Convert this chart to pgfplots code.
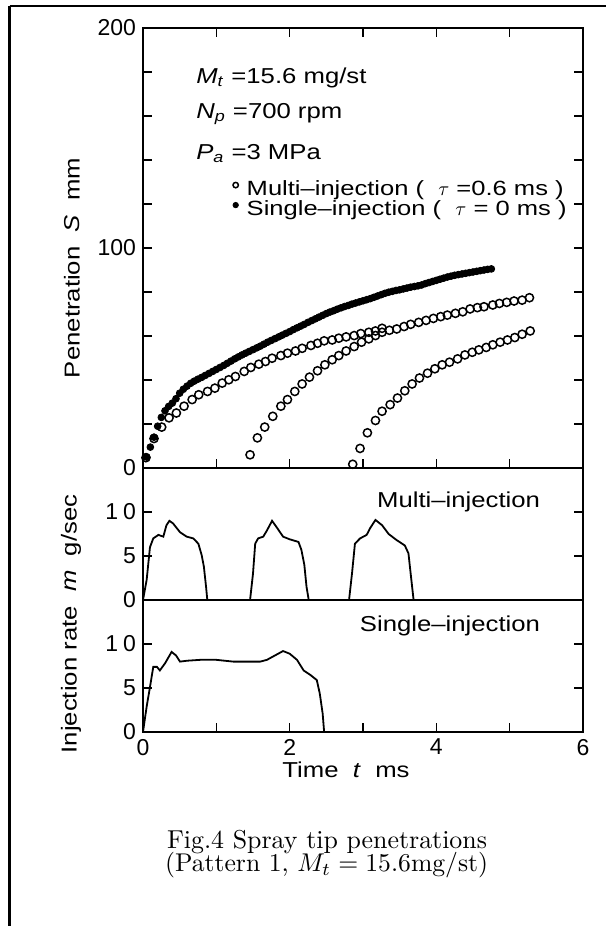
\documentclass[border=0pt]{standalone}
\usepackage{fontspec}
\usepackage{graphicx}
\usepackage{pgfplots}
\pgfplotsset{compat=1.18}
\newfontfamily\hv{Liberation Sans}
\newfontfamily\hvw[FakeStretch=1.19]{Liberation Sans}
\newfontfamily\hvl[FakeStretch=1.24]{Liberation Sans}
\newcommand\tickfont{\hv\fontsize{11.5}{13}\selectfont}
\newcommand\anfont{\hvw\fontsize{10.8}{12}\selectfont}
\newcommand\lgfont{\hvl\fontsize{10.3}{11}\selectfont}
\pgfplotsset{
  base/.style={scale only axis, width=220pt, xmin=0, xmax=6, anchor=south west,
    axis line style={line width=0.8pt}, tick style={line width=0.6pt, black},
    major tick length=4.5pt, minor tick length=4.5pt, tick align=inside,
    /pgf/number format/assume math mode=true,
    ticklabel style={font=\tickfont}},
}
\pgfplotstableread{
t S
0.05 5.0
0.10 9.5
0.15 14.0
0.20 19.0
0.25 23.0
0.30 26.0
0.35 28.0
0.40 29.5
0.45 31.5
0.50 34.0
0.55 35.8
0.60 37.2
0.65 38.5
0.70 39.5
0.75 40.4
0.80 41.2
0.85 42.1
0.90 43.0
0.95 43.9
1.00 44.8
1.05 45.7
1.10 46.6
1.15 47.6
1.20 48.6
1.25 49.6
1.30 50.5
1.35 51.4
1.40 52.2
1.45 53.0
1.50 53.8
1.55 54.6
1.60 55.4
1.65 56.3
1.70 57.2
1.75 58.0
1.80 58.8
1.85 59.6
1.90 60.4
1.95 61.2
2.00 62.0
2.05 62.9
2.10 63.7
2.15 64.5
2.20 65.3
2.25 66.2
2.30 67.0
2.35 67.8
2.40 68.6
2.45 69.4
2.50 70.2
2.55 70.9
2.60 71.5
2.65 72.2
2.70 72.8
2.75 73.4
2.80 73.9
2.85 74.5
2.90 75.0
2.95 75.5
3.00 76.0
3.05 76.5
3.10 77.0
3.15 77.6
3.20 78.2
3.25 78.8
3.30 79.4
3.35 79.9
3.40 80.3
3.45 80.7
3.50 81.0
3.55 81.4
3.60 81.8
3.65 82.2
3.70 82.5
3.75 82.8
3.80 83.2
3.85 83.8
3.90 84.3
3.95 84.8
4.00 85.3
4.05 85.8
4.10 86.3
4.15 86.8
4.20 87.2
4.25 87.6
4.30 87.9
4.35 88.2
4.40 88.5
4.45 88.8
4.50 89.1
4.55 89.4
4.60 89.7
4.65 90.0
4.70 90.3
4.75 90.5
}\single
\pgfplotstableread{
t S
0.04 4.7
0.15 13.4
0.255 18.6
0.355 22.8
0.455 25.0
0.56 28.1
0.67 31.1
0.76 33.3
0.88 34.8
0.98 36.3
1.08 38.6
1.17 40.1
1.26 41.6
1.38 43.9
1.47 45.7
1.58 47.2
1.67 48.4
1.76 49.9
1.88 51.1
1.97 52.2
2.08 53.2
2.17 54.4
2.29 55.7
2.38 56.7
2.47 57.8
2.58 58.2
2.67 59.0
2.77 59.6
2.88 60.2
2.97 61.1
3.08 61.7
3.17 62.3
3.26 63.5
}\multiA
\pgfplotstableread{
t S
1.46 6.0
1.56 13.7
1.66 18.6
1.77 23.5
1.88 28.1
1.97 31.1
2.07 34.8
2.17 38.2
2.27 41.3
2.38 44.2
2.48 46.9
2.58 49.2
2.67 51.1
2.77 53.2
2.88 55.2
2.98 57.2
3.08 58.7
3.17 60.2
3.26 61.7
3.36 62.6
3.46 63.2
3.56 64.3
3.65 65.3
3.76 66.2
3.86 67.1
3.96 68.0
4.06 68.8
4.15 69.5
4.26 70.3
4.36 71.0
4.46 72.3
4.56 72.9
4.65 73.3
4.77 74.1
4.86 74.8
4.96 75.3
5.06 75.9
5.17 76.3
5.27 77.4
}\multiB
\pgfplotstableread{
t S
2.86 1.7
2.96 8.9
3.06 16.0
3.17 21.6
3.26 25.8
3.37 28.8
3.47 31.8
3.57 35.1
3.67 38.2
3.77 40.9
3.88 43.1
3.98 45.1
4.08 46.9
4.18 48.1
4.29 49.6
4.39 51.4
4.49 52.6
4.58 53.7
4.68 54.8
4.77 56.0
4.87 57.2
4.97 58.2
5.07 59.3
5.17 60.8
5.28 62.3
}\multiC
\begin{document}
\begin{tikzpicture}
\useasboundingbox (0pt,0pt) rectangle (303pt,-463pt);
\draw[line width=1.3pt] (4.75pt,-3pt) -- (303pt,-3pt);
\draw[line width=1.3pt] (4.75pt,-3pt) -- (4.75pt,-463pt);
% top panel
\begin{axis}[base, at={(71.5pt,-234pt)}, height=220pt, ymin=0, ymax=200,
  ytick={0,100,200}, minor ytick={20,40,...,180},
  xtick={0,1,...,6}, xticklabels={}, clip=false,
  legend style={draw=none, fill=none, at={(axis cs:1.16,131)}, anchor=north west,
    font=\lgfont, inner sep=0pt, row sep=0pt,
    nodes={inner sep=0.2pt, text height=7.4pt, text depth=2.2pt}},
  legend cell align=left]
\addplot[only marks, mark=o, mark size=2.05pt, mark options={line width=0.75pt}, black,
  legend image code/.code={\path (0cm,0cm) (0.3cm,0cm); \draw[mark size=1.35pt, line width=0.5pt] plot coordinates {(0.12cm,0.09cm)};}]
  table {\multiA};
\addlegendentry{Multi–injection (\ \ $\tau$ =0.6 ms )}
\addplot[only marks, mark=*, mark size=1.7pt, black,
  legend image code/.code={\path (0cm,0cm) (0.3cm,0cm); \draw[mark size=1.35pt] plot coordinates {(0.12cm,0.09cm)};}]
  table {\single};
\addlegendentry{Single–injection (\ \ $\tau$ = 0 ms )}
\addplot[only marks, mark=o, mark size=2.05pt, mark options={line width=0.75pt, fill=white}, black, forget plot]
  table {\multiB};
\addplot[only marks, mark=o, mark size=2.05pt, mark options={line width=0.75pt, fill=white}, black, forget plot]
  table {\multiC};
\node[anchor=west, font=\anfont] at (axis cs:0.63,177.5) {\textit{M}\textsubscript{\textit{t}} =15.6 mg/st};
\node[anchor=west, font=\anfont] at (axis cs:0.63,161) {\textit{N}\textsubscript{\textit{p}} =700 rpm};
\node[anchor=west, font=\anfont] at (axis cs:0.63,143) {\textit{P}\textsubscript{\textit{a}} =3 MPa};
\end{axis}
% middle panel
\begin{axis}[base, at={(71.5pt,-300pt)}, height=66pt, ymin=0, ymax=15,
  ytick={0,5,10}, yticklabels={0,5,1\hspace{2.5pt}0}, xtick=\empty]
\addplot[black, line width=0.9pt] coordinates {
(0,0) (0.05,2.3) (0.095,6.0) (0.14,7.0) (0.21,7.4) (0.277,7.2) (0.32,8.5) (0.36,9.0)
(0.41,8.7) (0.505,7.7) (0.596,7.2) (0.686,7.0) (0.755,6.4) (0.80,5.1) (0.83,3.8)
(0.86,1.5) (0.877,0) (1.46,0) (1.50,3.0) (1.53,6.4) (1.57,7.0) (1.64,7.2) (1.69,7.9)
(1.76,9.0) (1.82,8.3) (1.91,7.2) (2.0,6.9) (2.12,6.6) (2.16,5.7) (2.20,4.0) (2.23,1.5)
(2.26,0) (2.81,0) (2.85,3.0) (2.89,6.4) (2.96,7.0) (3.05,7.4) (3.10,8.2) (3.17,9.1)
(3.26,8.5) (3.35,7.5) (3.46,6.8) (3.57,6.2) (3.62,5.3) (3.65,3.0) (3.69,0)};
\node[anchor=east, font=\anfont] at (axis cs:5.51,11.2) {Multi–injection};
\end{axis}
% bottom panel
\begin{axis}[base, at={(71.5pt,-366pt)}, height=66pt, ymin=0, ymax=15,
  ytick={0,5,10}, yticklabels={0,5,1\hspace{2.5pt}0},
  xtick={0,1,...,6}, xticklabels={0,,2,,4,,6}, xtick pos=left]
\addplot[black, line width=0.9pt] coordinates {
(0,0) (0.05,2.9) (0.095,5.1) (0.14,7.4) (0.19,7.4) (0.23,7.0) (0.30,7.8) (0.39,9.1)
(0.45,8.7) (0.505,8.0) (0.60,8.1) (0.78,8.2) (1.0,8.2) (1.23,8.0) (1.46,8.0) (1.60,8.0)
(1.69,8.2) (1.80,8.7) (1.91,9.2) (2.0,8.9) (2.10,8.2) (2.19,7.0) (2.28,6.5) (2.37,5.9)
(2.41,4.4) (2.45,2.1) (2.47,0)};
\node[anchor=east, font=\anfont] at (axis cs:5.51,12.1) {Single–injection};
\end{axis}
% axis labels
\node[rotate=90, font=\anfont] at (36pt,-134pt) {Penetration\ \ \textit{S}\ \ mm};
\node[rotate=90, font=\anfont] at (35.5pt,-312pt) {Injection rate\ \ \textit{m}\ \ g/sec};
\node[font=\anfont] at (173pt,-385pt) {Time\ \ \textit{t}\ \ ms};
% caption
\node[inner sep=0pt] at (163.5pt,-421pt)
  {\resizebox{160pt}{!}{\strut Fig.4 Spray tip penetrations}};
\node[inner sep=0pt] at (163.3pt,-432.5pt)
  {\resizebox{161.5pt}{!}{\strut (Pattern 1, $M_t = 15.6$mg/st)}};
\end{tikzpicture}
\end{document}
